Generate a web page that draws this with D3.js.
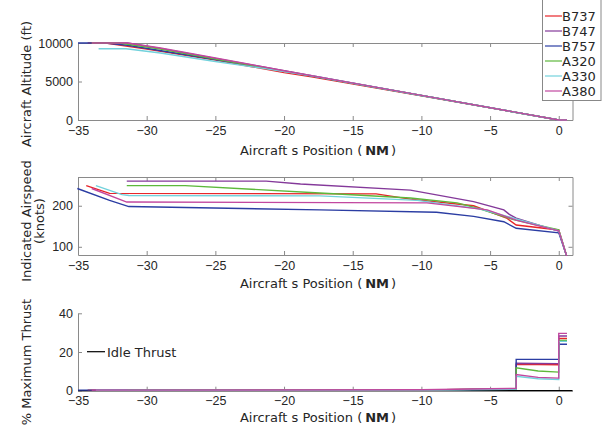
<!DOCTYPE html>
<html>
<head>
<meta charset="utf-8">
<script src="https://cdn.jsdelivr.net/npm/d3@7"></script>
<style>
  body { margin: 0; background: #fff; }
  svg { font-family: "DejaVu Sans", sans-serif; }
  .tick text { fill: #262626; font-size: 12.5px; }
  .lbl { fill: #262626; font-size: 13px; }
</style>
</head>
<body>
<svg id="chart" width="603" height="427"></svg>
<script>
// aircraft names and colours
const aircraft = ["B737", "B747", "B757", "A320", "A330", "A380"];
const colours = ["#e8252a", "#84399a", "#2b3da3", "#5db83b", "#72d2dc", "#c2479f"];
const xTicks = [-35, -30, -25, -20, -15, -10, -5, 0];

// altitude (ft) vs position (NM)
const altB737 = [[-34.3,10000],[-33,10000],[-30,9200],[-25,7800],[-20,6150],[-18,5600],[-10,3150],[0,0],[0.6,0]];
const altB747 = [[-34,10000],[-31.4,10000],[-29,9300],[-25,8000],[-20,6400],[-10,3200],[0,0],[0.6,0]];
const altB757 = [[-35,10000],[-33,10000],[-31.4,9700],[-25,7850],[-20,6350],[-10,3180],[0,0],[0.6,0]];
const altA320 = [[-34,10000],[-32,10000],[-29,9200],[-25,7900],[-20,6350],[-10,3180],[0,0],[0.6,0]];
const altA330 = [[-33.5,9250],[-31.5,9250],[-29,8700],[-25,7600],[-21.5,6700],[-18,5750],[-10,3180],[0,0],[0.6,0]];
const altA380 = [[-34,10000],[-31.4,10000],[-29,9350],[-25,8050],[-20,6400],[-10,3200],[0,0],[0.6,0]];

// indicated airspeed (knots)
const spdB737 = [[-34.4,249],[-32.7,230],[-13.3,229],[-10.8,216],[-6.2,200],[-3.8,170],[-3.1,153],[0,141],[0.6,75]];
const spdB747 = [[-31.45,260],[-21.3,260],[-18.8,253],[-10.8,238],[-6.2,210],[-4.0,190],[-3.6,179],[-3.1,170],[0,138],[0.6,75]];
const spdB757 = [[-35.05,242],[-32.7,213],[-31.3,198],[-17.4,190],[-8.9,184],[-6.2,174],[-4.0,161],[-3.1,145],[0,134],[0.6,75]];
const spdA320 = [[-31.45,249],[-27.2,249],[-17.4,231],[-10.8,219],[-7.4,207],[-5.7,192],[-3.3,166],[0,141],[0.6,75]];
const spdA330 = [[-33.7,249],[-31.8,227],[-31.3,225],[-17.4,224],[-10.3,213],[-5.7,192],[-3.3,170],[0,139],[0.6,75]];
const spdA380 = [[-34,242],[-31.45,209],[-9.6,207],[-5.2,190],[-3.1,165],[0,139],[0.6,75]];

// % maximum thrust
const thrB737 = [[-34.3,0.3],[-10,0.4],[-5,0.8],[-3.1,1.0],[-3.1,13.6],[0,13.4],[0,27],[0.6,27]];
const thrB747 = [[-31.45,0.3],[-10,0.4],[-5,0.8],[-3.1,1.0],[-3.1,14.2],[0,14.0],[0,28.3],[0.6,28.3]];
const thrB757 = [[-35,0.3],[-10,0.4],[-5,0.7],[-3.1,1.0],[-3.1,16.2],[0,16.2],[0,24],[0.6,24]];
const thrA320 = [[-31.45,0.3],[-10,0.4],[-5,0.8],[-3.1,1.0],[-3.1,11.8],[-1.5,10.2],[0,9.6],[0,26],[0.6,26]];
const thrA330 = [[-33.7,0.2],[-10,0.3],[-5,0.6],[-3.1,0.8],[-3.1,7.5],[-1.5,6.2],[0,5.8],[0,25.5],[0.6,25.5]];
const thrA380 = [[-34,0.3],[-10,0.5],[-5,1.0],[-3.1,1.2],[-3.1,8.3],[-1.5,6.9],[0,6.5],[0,29.6],[0.6,29.6]];
const idleThrust = [[-35,0],[1,0]];

const altitude = [altB737, altB747, altB757, altA320, altA330, altA380];
const airspeed = [spdB737, spdB747, spdB757, spdA320, spdA330, spdA380];
const thrust = [thrB737, thrB747, thrB757, thrA320, thrA330, thrA380];

const svg = d3.select("#chart");
const left = 78, right = 572.5;
const x = d3.scaleLinear().domain([-35, 1]).range([left, right]);
const axisCol = "#8a8a8a";

function panel(cfg) {
    let y = d3.scaleLinear().domain(cfg.yDomain).range([cfg.bottom, cfg.top]);
    let g = svg.append("g");
    let clipId = "clip" + Math.round(cfg.top);
    svg.append("clipPath").attr("id", clipId).append("rect")
        .attr("x", left - 2).attr("y", cfg.top - 2).attr("width", right - left + 4).attr("height", cfg.bottom - cfg.top + 3);

    let xAx = g.append("g").attr("transform", "translate(0," + cfg.bottom + ")")
        .call(d3.axisBottom(x).tickValues(xTicks).tickSizeInner(-4).tickSizeOuter(0).tickPadding(cfg.xPad));
    let yAx = g.append("g").attr("transform", "translate(" + left + ",0)")
        .call(d3.axisLeft(y).tickValues(cfg.yTicks).tickFormat(d3.format("d")).tickSizeInner(-4).tickSizeOuter(0).tickPadding(5));
    if (cfg.box) {
        g.append("g").attr("transform", "translate(0," + cfg.top + ")")
            .call(d3.axisTop(x).tickValues(xTicks).tickSizeInner(-4).tickSizeOuter(0).tickFormat(""));
        g.append("g").attr("transform", "translate(" + right + ",0)")
            .call(d3.axisRight(y).tickValues(cfg.yTicks).tickSizeInner(-4).tickSizeOuter(0).tickFormat(""));
    }
    g.selectAll(".domain, .tick line").attr("stroke", axisCol);
    g.selectAll(".tick text").attr("font-size", null).attr("font-family", null);

    let line = d3.line().x(d => x(d[0])).y(d => y(d[1]));
    let plot = g.append("g").attr("clip-path", "url(#" + clipId + ")");
    if (cfg.extra) {
        plot.append("path").attr("d", line(cfg.extra)).attr("fill", "none")
            .attr("stroke", "#000").attr("stroke-width", 1.2);
    }
    cfg.series.forEach((s, i) => {
        plot.append("path").attr("d", line(s)).attr("fill", "none")
            .attr("stroke", colours[i]).attr("stroke-width", 1.4);
    });

    // x label
    let t = svg.append("text").attr("class", "lbl").attr("x", 318).attr("y", cfg.xLabelY)
        .attr("text-anchor", "middle");
    t.append("tspan").text("Aircraft s Position (");
    t.append("tspan").attr("dx", 3).attr("font-weight", "bold").text("NM");
    t.append("tspan").attr("dx", 2).text(")");

    // y label
    let yl = svg.append("text").attr("class", "lbl").attr("text-anchor", "middle")
        .attr("transform", "translate(" + cfg.yLabelX + "," + cfg.yLabelY + ") rotate(-90)");
    cfg.yLabel.forEach((s, i) => {
        yl.append("tspan").attr("x", 0).attr("dy", i == 0 ? 0 : 13).text(s);
    });
    return y;
}

panel({top: 43, bottom: 120, yDomain: [0, 10000], yTicks: [0, 5000, 10000], series: altitude,
       box: true, xPad: 6, xLabelY: 155, yLabel: ["Aircraft Altitude (ft)"], yLabelX: 31, yLabelY: 84});
panel({top: 177, bottom: 255, yDomain: [80, 270], yTicks: [100, 200], series: airspeed,
       box: true, xPad: 6, xLabelY: 288, yLabel: ["Indicated Airspeed", "(knots)"], yLabelX: 31, yLabelY: 221});
panel({top: 313.3, bottom: 390.7, yDomain: [0, 40], yTicks: [0, 20, 40], series: thrust, extra: idleThrust,
       box: false, xPad: 5, xLabelY: 422, yLabel: ["% Maximum Thrust"], yLabelX: 31, yLabelY: 362});

// idle thrust legend
svg.append("line").attr("x1", 87).attr("x2", 105).attr("y1", 351.7).attr("y2", 351.7)
    .attr("stroke", "#000").attr("stroke-width", 1.2);
svg.append("text").attr("class", "lbl").attr("x", 107).attr("y", 356.5).text("Idle Thrust");

// aircraft legend
let leg = svg.append("g");
leg.append("rect").attr("x", 542.5).attr("y", -0.5).attr("width", 58.5).attr("height", 101)
    .attr("fill", "#fff").attr("stroke", "#888");
aircraft.forEach((a, i) => {
    let yy = 16 + i * 15;
    leg.append("line").attr("x1", 545).attr("x2", 562).attr("y1", yy).attr("y2", yy)
        .attr("stroke", colours[i]).attr("stroke-width", 1.2);
    leg.append("text").attr("class", "lbl").attr("x", 562).attr("y", yy + 4.5).text(a);
});
</script>
</body>
</html>
